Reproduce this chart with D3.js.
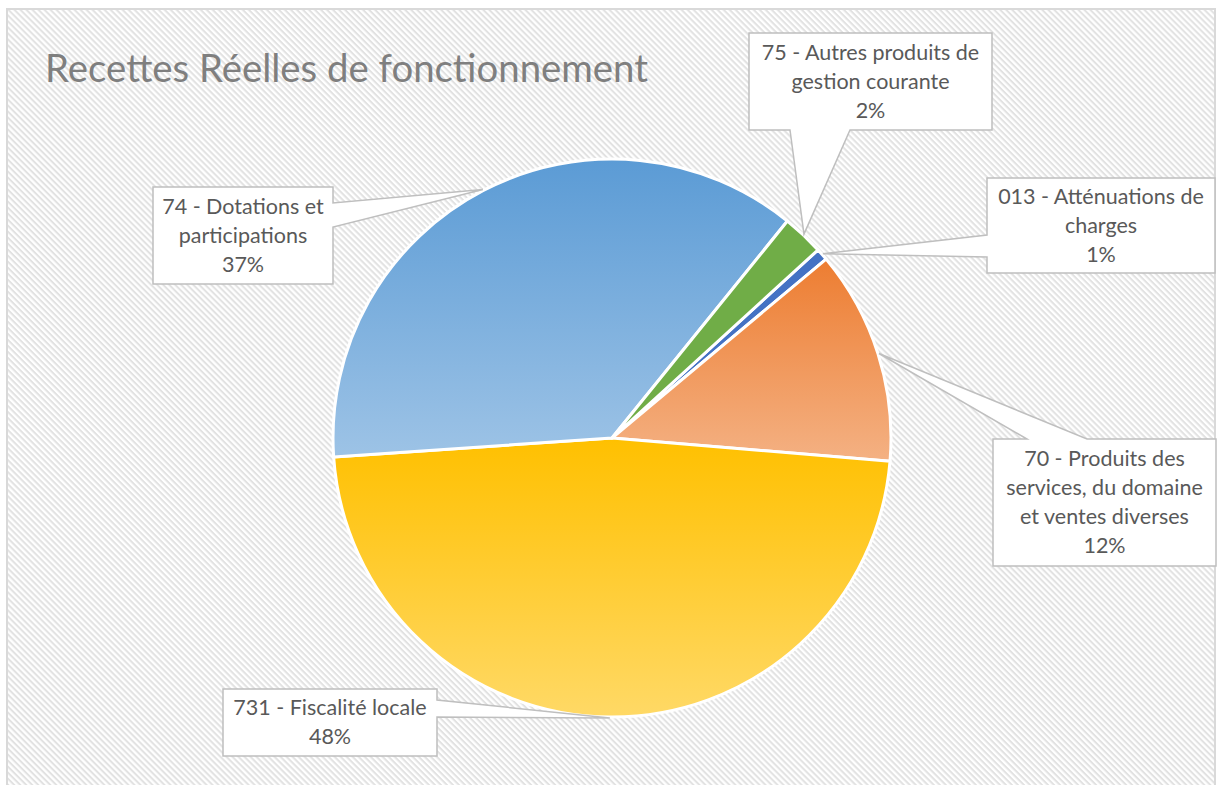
<!DOCTYPE html>
<html>
<head>
<meta charset="utf-8">
<script src="https://cdn.jsdelivr.net/npm/d3@7"></script>
<style>
    html, body { margin: 0; padding: 0; background: #ffffff; }
    svg { display: block; }
</style>
</head>
<body>
<div id="chart"></div>
<script>
const SVG_WIDTH = 1217;
const SVG_HEIGHT = 785;
const CENTER = { x: 612, y: 438 };
const RADIUS = 279;
const START_ANGLE = 47.6 * Math.PI / 180;

const TITLE = "Recettes Réelles de fonctionnement";

// slices, clockwise from the 013 wedge
const CODES = ["013", "70", "731", "74", "75"];
const SHARES = [0.7, 12.4, 47.6, 36.9, 2.4];
const LABEL_LINES = [
    ["013 - Atténuations de", "charges"],
    ["70 - Produits des", "services, du domaine", "et ventes diverses"],
    ["731 - Fiscalité locale"],
    ["74 - Dotations et", "participations"],
    ["75 - Autres produits de", "gestion courante"]
];

// top / bottom colours of each slice gradient
const COLORS_TOP = ["#4472c4", "#ed7d31", "#ffc000", "#5b9bd5", "#70ad47"];
const COLORS_BOTTOM = ["#4472c4", "#f4b183", "#ffd966", "#9dc3e6", "#70ad47"];

// callout boxes: box, side carrying the pointer, pointer base along that side
const CALLOUTS = {
    "013": { x: 987, y: 178, w: 228, h: 95, side: "left", a: 235, b: 257 },
    "70": { x: 993, y: 439, w: 223, h: 127, side: "top", a: 1027, b: 1087 },
    "731": { x: 223, y: 689, w: 214, h: 67, side: "right", a: 700, b: 717 },
    "74": { x: 153, y: 187, w: 180, h: 97, side: "right", a: 203, b: 227 },
    "75": { x: 749, y: 33, w: 243, h: 97, side: "bottom", a: 790, b: 850 }
};

const data = CODES.map((code, i) => ({
    code,
    share: SHARES[i],
    lines: LABEL_LINES[i].concat([Math.round(SHARES[i]) + "%"]),
    top: COLORS_TOP[i],
    bottom: COLORS_BOTTOM[i]
}));

const appendBackground = (svg) => {
    const defs = svg.append("defs");
    const pattern = defs.append("pattern")
        .attr("id", "hatch")
        .attr("patternUnits", "userSpaceOnUse")
        .attr("width", 4.25)
        .attr("height", 4.25)
        .attr("patternTransform", "rotate(45)");
    pattern.append("rect")
        .attr("width", 4.25).attr("height", 4.25)
        .attr("fill", "#ffffff");
    pattern.append("rect")
        .attr("width", 4.25).attr("height", 2)
        .attr("fill", "#e2e2e2");

    svg.append("rect")
        .attr("x", 7).attr("y", 9)
        .attr("width", SVG_WIDTH - 9)
        .attr("height", SVG_HEIGHT)
        .attr("fill", "url(#hatch)")
        .attr("stroke", "#d9d9d9")
        .attr("stroke-width", 2);
    return defs;
};

const appendTitle = (svg) => {
    svg.append("text")
        .attr("x", 45)
        .attr("y", 82)
        .attr("font-family", "Lato, 'Open Sans', sans-serif")
        .attr("font-size", 39)
        .attr("fill", "#7f7f7f")
        .attr("textLength", 603)
        .attr("lengthAdjust", "spacingAndGlyphs")
        .text(TITLE);
};

const appendSlices = (svg, defs, arcs) => {
    data.forEach((d, i) => {
        const g = defs.append("linearGradient")
            .attr("id", "grad" + i)
            .attr("x1", 0).attr("y1", 0)
            .attr("x2", 0).attr("y2", 1);
        g.append("stop").attr("offset", "0%").attr("stop-color", d.top);
        g.append("stop").attr("offset", "100%").attr("stop-color", d.bottom);
    });

    const arc = d3.arc().innerRadius(0).outerRadius(RADIUS);

    svg.append("g")
        .attr("transform", `translate(${CENTER.x},${CENTER.y})`)
        .selectAll("path")
        .data(arcs)
        .join("path")
        .attr("d", arc)
        .attr("fill", (d, i) => `url(#grad${i})`)
        .attr("stroke", "#ffffff")
        .attr("stroke-width", 3)
        .attr("stroke-linejoin", "round");
};

const calloutPath = (c, apex) => {
    const x0 = c.x, y0 = c.y, x1 = c.x + c.w, y1 = c.y + c.h;
    const p = [[x0, y0]];
    if (c.side === "top") p.push([c.a, y0], apex, [c.b, y0]);
    p.push([x1, y0]);
    if (c.side === "right") p.push([x1, c.a], apex, [x1, c.b]);
    p.push([x1, y1]);
    if (c.side === "bottom") p.push([c.b, y1], apex, [c.a, y1]);
    p.push([x0, y1]);
    if (c.side === "left") p.push([x0, c.b], apex, [x0, c.a]);
    return "M" + p.map(q => q.join(",")).join("L") + "Z";
};

const appendLabels = (svg, arcs) => {
    arcs.forEach(a => {
        const d = a.data;
        const c = CALLOUTS[d.code];
        const mid = (a.startAngle + a.endAngle) / 2;
        const apex = [
            CENTER.x + (RADIUS + 1) * Math.sin(mid),
            CENTER.y - (RADIUS + 1) * Math.cos(mid)
        ];

        svg.append("path")
            .attr("d", calloutPath(c, apex))
            .attr("fill", "#ffffff")
            .attr("stroke", "#bfbfbf")
            .attr("stroke-width", 1.5);

        const lineH = 29;
        const firstY = c.y + c.h / 2 - (d.lines.length - 1) * lineH / 2 + 7;
        const text = svg.append("text")
            .attr("font-family", "Lato, 'Open Sans', sans-serif")
            .attr("font-size", 21.5)
            .attr("fill", "#595959")
            .attr("text-anchor", "middle");
        d.lines.forEach((line, j) => {
            text.append("tspan")
                .attr("x", c.x + c.w / 2)
                .attr("y", firstY + j * lineH)
                .text(line);
        });
    });
};

const drawPie = (containerId) => {
    const container = d3.select("#" + containerId);
    container.html("");

    const svg = container.append("svg")
        .attr("width", SVG_WIDTH)
        .attr("height", SVG_HEIGHT);

    const pie = d3.pie()
        .value(d => d.share)
        .sort(null)
        .startAngle(START_ANGLE)
        .endAngle(START_ANGLE + 2 * Math.PI);
    const arcs = pie(data);

    const defs = appendBackground(svg);
    appendTitle(svg);
    appendSlices(svg, defs, arcs);
    appendLabels(svg, arcs);
};

drawPie("chart");
</script>
</body>
</html>
